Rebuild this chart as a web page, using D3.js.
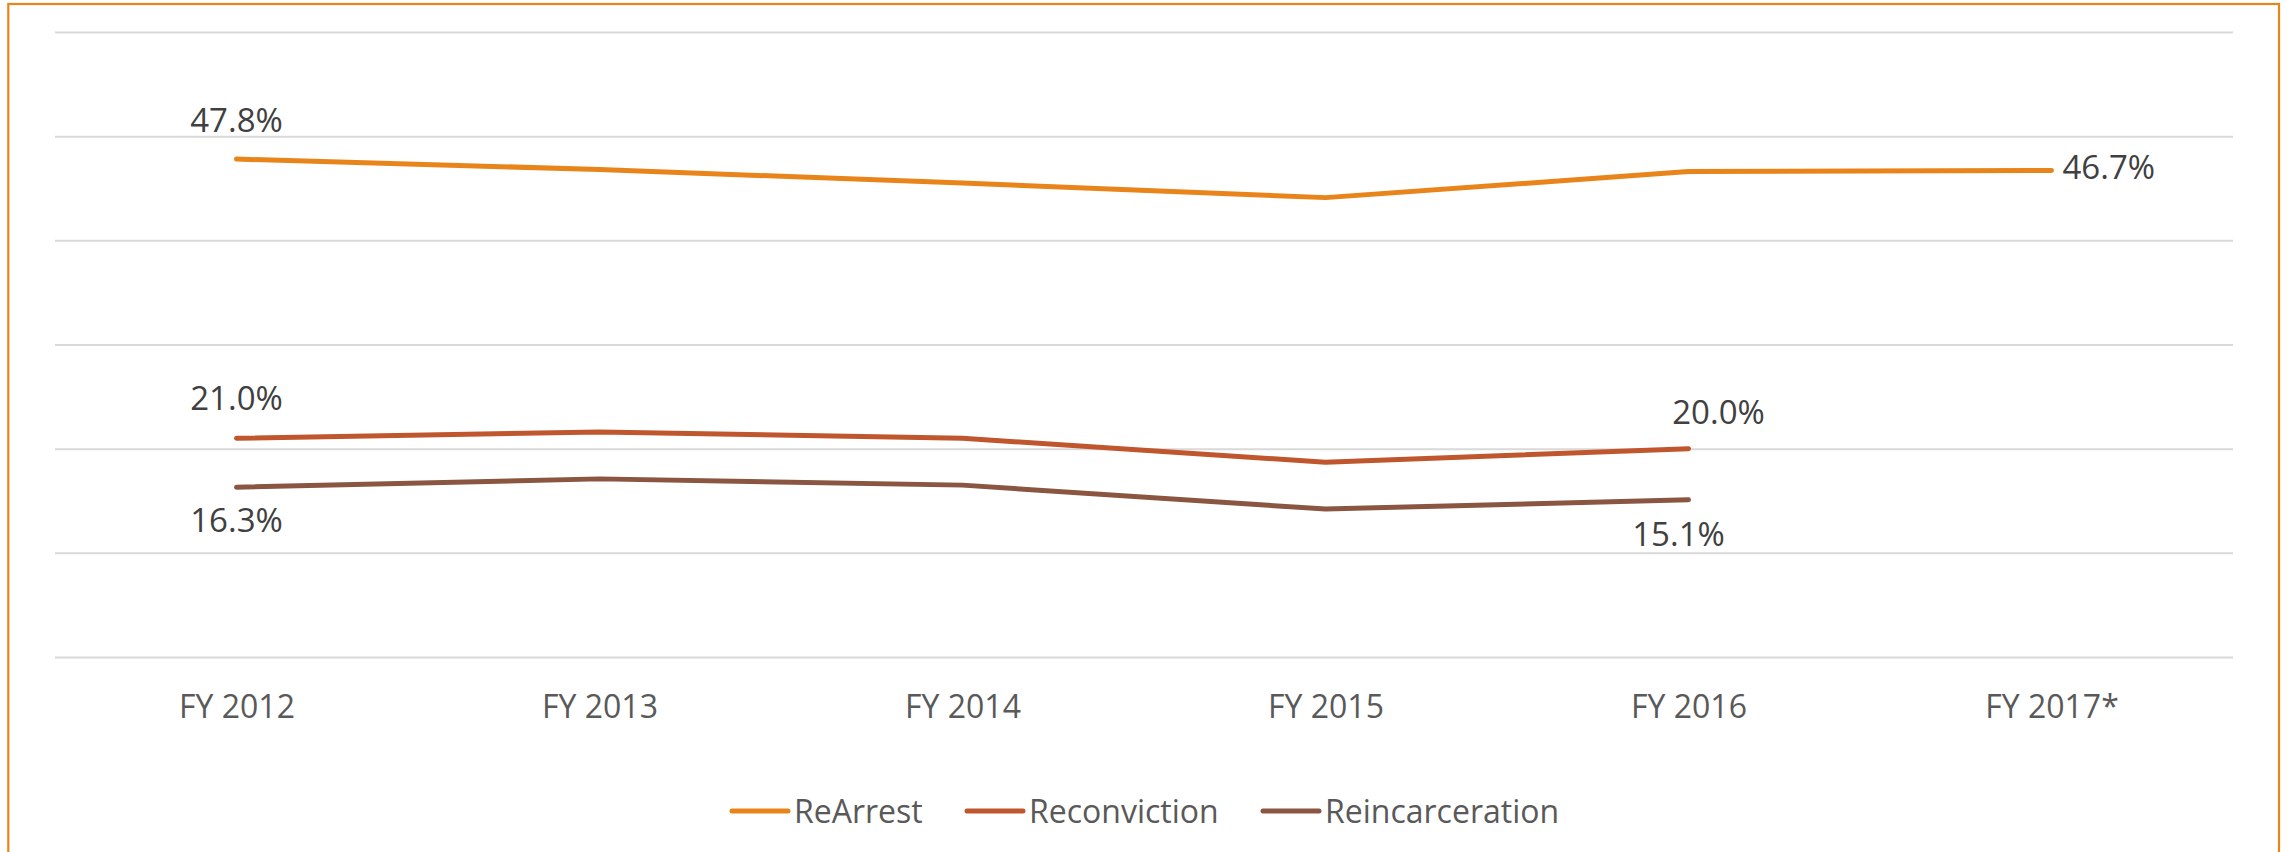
<!DOCTYPE html>
<html>
<head>
<meta charset="utf-8">
<script src="https://cdn.jsdelivr.net/npm/d3@7"></script>
<style>
  html, body { margin: 0; padding: 0; background: #fff; }
  svg { display: block; }
</style>
</head>
<body>
<script>
// ---- data ----
const categories = ["FY 2012", "FY 2013", "FY 2014", "FY 2015", "FY 2016", "FY 2017*"];
const seriesNames = ["ReArrest", "Reconviction", "Reincarceration"];
const reArrest = [47.8, 46.8, 45.5, 44.1, 46.6, 46.7];
const reconviction = [21.0, 21.6, 21.0, 18.7, 20.0, null];
const reincarceration = [16.3, 17.1, 16.5, 14.2, 15.1, null];
const yTicks = [0, 10, 20, 30, 40, 50, 60];
// which points carry a value label: [series index, category index]
const labelledPoints = [[0, 0], [0, 5], [1, 0], [1, 4], [2, 0], [2, 4]];

// ---- styles / layout ----
const W = 2287, H = 852;
const colors = ["#E8841A", "#C0562D", "#8A5641"];
const allSeries = [reArrest, reconviction, reincarceration];
const font = "'Open Sans', 'Noto Sans', sans-serif";

const svg = d3.select("body").append("svg").attr("width", W).attr("height", H);

svg.append("rect").attr("x", 0).attr("y", 0).attr("width", W).attr("height", H).attr("fill", "#fff");
// chart border
svg.append("rect").attr("x", 8.3).attr("y", 4).attr("width", 2279 - 8.3).attr("height", H + 20)
  .attr("fill", "none").attr("stroke", "#E8841A").attr("stroke-width", 2.2);

const x = d3.scalePoint().domain(categories).range([55, 2233]).padding(0.5);
const y = d3.scaleLinear().domain([0, 60]).range([657, 32]);

// gridlines
const grid = svg.append("g").attr("transform", "translate(55,0)")
  .call(d3.axisLeft(y).tickValues(yTicks).tickSize(-(2233 - 55)).tickFormat(""));
grid.select(".domain").remove();
grid.selectAll(".tick line").attr("stroke", "#D9D9D9").attr("stroke-width", 2);

// x axis labels
const xAxis = svg.append("g").attr("transform", "translate(0,657)")
  .call(d3.axisBottom(x).tickSize(0));
xAxis.select(".domain").remove();
xAxis.selectAll(".tick text")
  .attr("y", 61).attr("dy", 0)
  .attr("fill", "#595959")
  .style("font-family", font).style("font-size", "32px");

// lines
const line = d3.line()
  .defined(d => d.v != null)
  .x(d => x(d.c))
  .y(d => y(d.v));

allSeries.forEach((vals, i) => {
  const data = categories.map((c, j) => ({ c, v: vals[j] }));
  svg.append("path").datum(data)
    .attr("d", line)
    .attr("fill", "none")
    .attr("stroke", colors[i])
    .attr("stroke-width", 5)
    .attr("stroke-linecap", "round")
    .attr("stroke-linejoin", "round");
});

// value labels
const fmt = v => d3.format(".1f")(v) + "%";
const placement = {
  "0,0": { dx: 0, dy: -27, anchor: "middle" },
  "0,5": { dx: 11, dy: 8, anchor: "start" },
  "1,0": { dx: 0, dy: -28, anchor: "middle" },
  "1,4": { dx: 30, dy: -25, anchor: "middle" },
  "2,0": { dx: 0, dy: 45, anchor: "middle" },
  "2,4": { dx: -10, dy: 46, anchor: "middle" }
};
labelledPoints.forEach(([s, j]) => {
  const v = allSeries[s][j];
  const p = placement[s + "," + j];
  svg.append("text")
    .attr("x", x(categories[j]) + p.dx)
    .attr("y", y(v) + p.dy)
    .attr("text-anchor", p.anchor)
    .attr("fill", "#404040")
    .style("font-family", font).style("font-size", "33px")
    .text(fmt(v));
});

// legend
const legendStarts = [732, 967, 1263];
const legend = svg.append("g");
seriesNames.forEach((name, i) => {
  const g = legend.append("g").attr("transform", `translate(${legendStarts[i]},811)`);
  g.append("line").attr("x1", 0).attr("x2", 56).attr("y1", 0).attr("y2", 0)
    .attr("stroke", colors[i]).attr("stroke-width", 5).attr("stroke-linecap", "round");
  g.append("text").attr("x", 62).attr("y", 12)
    .attr("fill", "#595959")
    .style("font-family", font).style("font-size", "32px")
    .text(name);
});
</script>
</body>
</html>
